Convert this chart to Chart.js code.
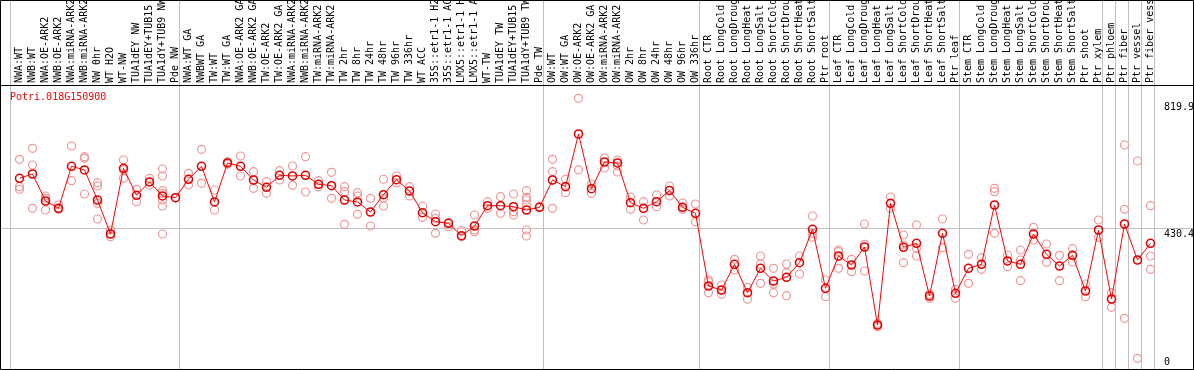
<!DOCTYPE html>
<html lang="en">
<head>
  <meta charset="UTF-8">
  <title>Potri.018G150900 expression</title>
  <script src="https://cdn.jsdelivr.net/npm/chart.js"></script>
  <style>
    body { margin: 0; background: #fff; }
    canvas { display: block; }
  </style>
</head>
<body>
  <canvas id="exprChart" width="1194" height="370"></canvas>

  <script>
    const geneName = 'Potri.018G150900';

    // sample labels, as printed (truncated) in the header
    const sampleLabels = [
      'NWA:WT', 'NWB:WT', 'NWA:OE-ARK2', 'NWB:OE-ARK2', 'NWA:miRNA-ARK2', 'NWB:miRNA-ARK2',
      'NW 0hr', 'WT H2O', 'WT-NW', 'TUA1dEY NW', 'TUA1dEY+TUB15', 'TUA1dY+TUB9 NW', 'Pde NW',
      'NWA:WT GA', 'NWBWT GA', 'TW:WT', 'TW:WT GA', 'NWA:OE-ARK2 GA', 'NWB:OE-ARK2 GA',
      'TW:OE-ARK2', 'TW:OE-ARK2 GA', 'NWA:miRNA-ARK2', 'NWB:miRNA-ARK2', 'TW:miRNA-ARK2',
      'TW:miRNA-ARK2', 'TW 2hr', 'TW 8hr', 'TW 24hr', 'TW 48hr', 'TW 96hr', 'TW 336hr',
      'WT ACC', '35S::etr1-1 H2', '35S::etr1-1 AC', 'LMX5::etr1-1 H', 'LMX5::etr1-1 A',
      'WT-TW', 'TUA1dEY TW', 'TUA1dEY+TUB15', 'TUA1dY+TUB9 TW', 'Pde TW',
      'OW:WT', 'OW:WT GA', 'OW:OE-ARK2', 'OW:OE-ARK2 GA', 'OW:miRNA-ARK2', 'OW:miRNA-ARK2',
      'OW 2hr', 'OW 8hr', 'OW 24hr', 'OW 48hr', 'OW 96hr', 'OW 336hr',
      'Root CTR', 'Root LongCold', 'Root LongDroug', 'Root LongHeat', 'Root LongSalt',
      'Root ShortCold', 'Root ShortDrou', 'Root ShortHeat', 'Root ShortSalt', 'Ptr root',
      'Leaf CTR', 'Leaf LongCold', 'Leaf LongDroug', 'Leaf LongHeat', 'Leaf LongSalt',
      'Leaf ShortCold', 'Leaf ShortDrou', 'Leaf ShortHeat', 'Leaf ShortSalt', 'Ptr leaf',
      'Stem CTR', 'Stem LongCold', 'Stem LongDroug', 'Stem LongHeat', 'Stem LongSalt',
      'Stem ShortCold', 'Stem ShortDrou', 'Stem ShortHeat', 'Stem ShortSalt', 'Ptr shoot',
      'Ptr xylem', 'Ptr phloem', 'Ptr fiber', 'Ptr vessel', 'Ptr fiber vess'
    ];

    // mean expression per sample
    const meanValues = [
      590.7, 604.5, 517.7, 494.2, 629.3, 617.4, 520.9, 411.6, 622.8, 536,
      578.8, 533.8, 528.3, 587.5, 629.3, 514.5, 639.9, 629.3, 585.2, 561.7,
      600.3, 598.1, 600.3, 571.4, 566.9, 520.9, 514.5, 482.3, 537.9, 586.2,
      549.8, 480.1, 451.1, 446, 406.1, 437.3, 502.6, 502.6, 499.3, 488.7,
      497.4, 585.2, 563.7, 733.1, 557.2, 643.1, 639.9, 512.2, 494.2, 515.4,
      551.4, 497.4, 478.1, 244.4, 231.5, 314.1, 222.8, 301.3, 260.4, 272.3,
      319.3, 426.7, 237, 340.8, 311.9, 369.8, 119, 510.3, 368.8, 381.7,
      212.2, 413.8, 220.9, 301.3, 314.1, 504.8, 324.8, 314.1, 411.6, 346.3,
      308.7, 343.1, 228.3, 424.4, 202.6, 443.7, 328, 381.7
    ];

    // individual replicate values per sample
    const replicateValues = [
      [651.8, 563.7, 555.3], [687.1, 633.4, 494.2], [533.8, 526.4, 488.7], [504.8, 491],
      [694.5, 583], [660.1, 655, 540.2], [576.5, 565.9, 510.3, 459.8], [424.4, 402.9],
      [649.5, 617.4, 590.7], [555.3, 515.4], [590.7, 569.1],
      [620.6, 598.1, 550.8, 542.4, 520.9, 501.6, 411.6], [528.3],
      [606.7, 569.1], [683.9, 574.6], [553, 488.7], [644, 636], [662.4, 598.1],
      [611.9, 558.5], [579.7, 542.4], [615.1, 585.2], [630.2, 568.2], [660.1, 546.6],
      [583, 563.7], [610, 526.4], [563.7, 547.6, 442.8], [544.4, 533.8, 474.9],
      [526.4, 437.3], [587.5, 526.4, 501.6], [598.1, 576.5], [563.7, 533.8],
      [501.6, 465.3], [475.9, 462, 413.8], [447.9, 435], [422.2, 402.9],
      [472.7, 424.4, 419], [515.4, 494.2], [531.5, 478.1], [540.2, 483.3, 472.7],
      [550.8, 529.6, 520.9, 504.8, 424.4, 405.1], [499.3],
      [651.8, 611.9, 494.2], [587.5, 544.4], [847.9, 617.4], [572.3, 542.4],
      [655.9, 623.8], [649.5, 630.2, 610.9], [530.5, 491], [515.4, 456.6],
      [537, 499.3], [565.9, 533.8], [511.2, 491], [508, 451.1],
      [263.7, 258.2, 222.8], [247.6, 217.7], [330.2, 295.8], [240.2, 201.6],
      [340.8, 315.1, 253.1], [301.3, 250.8, 222.8], [315.1, 287.1, 213.2], [340.8, 283],
      [469.4, 413.8, 401], [263.7, 210],
      [360.1, 354.7, 301.3], [330.2, 290.4], [443.7, 378.5, 292.6], [113.5, 124],
      [530.5, 494.2], [408.4, 376.2, 319.3], [440.5, 365.6, 340.8], [204.8, 218],
      [459.8, 367.5], [233.8, 204.8],
      [346.3, 253.1], [335.4, 298.1], [558.5, 547.6, 413.8], [344, 306.4],
      [360.1, 328, 261.4], [433.1, 392.3], [379.4, 320.6], [343.1, 261.4],
      [364.3, 321.5], [250.8, 210],
      [456.6, 401], [222.8, 175.9], [697.7, 491, 140.5], [646.3, 11.9], [502.6, 340.8, 298.1]
    ];

    // last sample index of each group (a grey separator follows it)
    const groupEnds = [-1, 12, 40, 52, 62, 72, 83, 84, 85, 86, 87];

    // right-hand axis labels; the middle one also gets a grid line
    const yTickLabels = ['0', '430.4', '819.9'];
    const yGridValue = 430.4;

    const meanPoints = meanValues.map((v, i) => ({ x: i, y: v }));
    const repPoints = [];
    replicateValues.forEach((reps, i) => {
      reps.forEach(v => repPoints.push({ x: i, y: v }));
    });

    const MONO = '10px "DejaVu Sans Mono", "Liberation Mono", monospace';

    // header labels, title, value labels and black frame
    const decorations = {
      id: 'decorations',
      afterDraw(chart) {
        const ctx = chart.ctx;
        const xs = chart.scales.x;
        const ys = chart.scales.y;
        const W = chart.width, H = chart.height;

        ctx.save();
        ctx.font = MONO;
        ctx.fillStyle = '#000';

        // rotated sample names
        sampleLabels.forEach((label, i) => {
          const x = xs.getPixelForValue(i);
          ctx.save();
          ctx.translate(x, 83);
          ctx.rotate(-Math.PI / 2);
          ctx.textAlign = 'left';
          ctx.textBaseline = 'middle';
          ctx.fillText(label, 0, 0);
          ctx.restore();
        });

        // value labels at the right edge
        ctx.textAlign = 'left';
        yTickLabels.forEach(t => {
          const v = parseFloat(t);
          const y = ys.getPixelForValue(v);
          if (v === yGridValue) {
            ctx.textBaseline = 'top';
            ctx.fillText(t, 1164, y + 1);
          } else {
            ctx.textBaseline = 'middle';
            ctx.fillText(t, 1164, y);
          }
        });

        // gene name
        ctx.fillStyle = '#ff0000';
        ctx.textBaseline = 'middle';
        ctx.fillText(geneName, 10, 97);

        // frame and header separator
        ctx.strokeStyle = '#000';
        ctx.lineWidth = 1;
        ctx.beginPath();
        ctx.rect(0.5, 0.5, W - 1, H - 1);
        ctx.moveTo(0, 85.5);
        ctx.lineTo(W, 85.5);
        ctx.stroke();
        ctx.restore();
      }
    };

    const ctx = document.getElementById('exprChart').getContext('2d');
    new Chart(ctx, {
      type: 'scatter',
      data: {
        datasets: [
          {
            label: 'Mean',
            data: meanPoints,
            showLine: true,
            borderColor: '#ff0000',
            borderWidth: 1,
            pointRadius: 4,
            pointBorderColor: '#e00000',
            pointBorderWidth: 1.6,
            pointBackgroundColor: 'rgba(0,0,0,0)'
          },
          {
            label: 'Replicates',
            data: repPoints,
            showLine: false,
            pointRadius: 4,
            pointBorderColor: 'rgb(240,150,150)',
            pointBorderWidth: 1.2,
            pointBackgroundColor: 'rgba(0,0,0,0)'
          }
        ]
      },
      options: {
        responsive: false,
        animation: false,
        layout: { padding: 0, autoPadding: false },
        plugins: {
          legend: { display: false },
          tooltip: { enabled: false }
        },
        scales: {
          x: {
            type: 'linear',
            min: -1.5,
            max: 90.346,
            afterBuildTicks: scale => {
              scale.ticks = groupEnds.map(i => ({ value: i + 0.346 }));
            },
            ticks: { display: false },
            grid: { color: '#c0c0c0', lineWidth: 1, drawTicks: false },
            border: { display: false }
          },
          y: {
            type: 'linear',
            position: 'right',
            min: -25.72,
            max: 1163.9,
            afterBuildTicks: scale => {
              scale.ticks = [{ value: yGridValue }];
            },
            ticks: { display: false },
            grid: { color: '#c0c0c0', lineWidth: 1, drawTicks: false },
            border: { display: false }
          }
        }
      },
      plugins: [decorations]
    });
  </script>
</body>
</html>
